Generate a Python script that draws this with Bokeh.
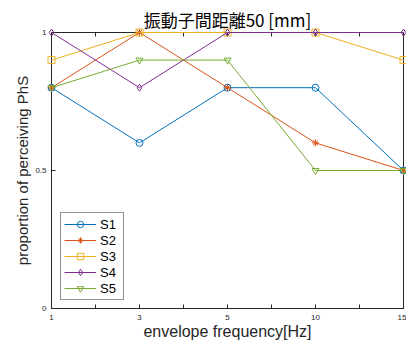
from bokeh.plotting import figure
from bokeh.models import (Range1d, FixedTicker, LinearAxis, Legend, Title)
from bokeh.embed import file_html
from bokeh.resources import INLINE

freq_labels = ["1", "3", "5", "10", "15"]
S1 = [0.8, 0.6, 0.8, 0.8, 0.5]
S2 = [0.8, 1.0, 0.8, 0.6, 0.5]
S3 = [0.9, 1.0, 1.0, 1.0, 0.9]
S4 = [1.0, 0.8, 1.0, 1.0, 1.0]
S5 = [0.8, 0.9, 0.9, 0.5, 0.5]
series = [("S1", S1, "#0072BD", "circle"),
          ("S2", S2, "#D95319", "asterisk"),
          ("S3", S3, "#EDB120", "square"),
          ("S4", S4, "#7E2F8E", "diamond"),
          ("S5", S5, "#77AC30", "inverted_triangle")]
y_ticks = [0, 0.5, 1]
title_text = "振動子間距離50 [mm]"
CJK = "Noto Sans CJK JP"
LAT = "Liberation Sans"
AX = "#262626"

xs = list(range(len(freq_labels)))

p = figure(width=406, height=342, output_backend="svg", toolbar_location=None,
           x_range=Range1d(0, len(freq_labels) - 1), y_range=Range1d(0, 1),
           min_border_left=51, min_border_right=3, min_border_top=32,
           min_border_bottom=34, x_axis_location=None, y_axis_location=None)
p.title = Title(text=title_text, align="center", text_font=CJK,
                text_font_size="17px", text_font_style="normal",
                text_color="black", standoff=1)
p.grid.visible = False
p.outline_line_color = AX
p.background_fill_color = "white"
p.border_fill_color = "white"

tick_x = FixedTicker(ticks=xs, minor_ticks=[i + 0.5 for i in xs[:-1]])
tick_y = FixedTicker(ticks=y_ticks, minor_ticks=[])


def style_axis(ax, show_labels):
    ax.axis_line_color = AX
    ax.major_tick_line_color = AX
    ax.minor_tick_line_color = AX
    ax.major_tick_in = 4
    ax.major_tick_out = 0
    ax.minor_tick_in = 4
    ax.minor_tick_out = 0
    ax.major_label_text_font = LAT
    ax.axis_label_text_font = LAT
    ax.axis_label_text_font_style = "normal"
    ax.axis_label_text_color = AX
    if show_labels:
        ax.major_label_text_color = AX
        ax.major_label_text_font_size = "8px"
    else:
        ax.major_label_text_color = None
        ax.major_label_text_font_size = "1px"
        ax.major_label_standoff = 0


xb = LinearAxis(ticker=tick_x, axis_label="envelope frequency[Hz]",
                major_label_overrides={i: l for i, l in enumerate(freq_labels)})
style_axis(xb, True)
xb.axis_label_text_font_size = "16px"
xb.major_label_standoff = 6
xb.axis_label_standoff = 0
p.add_layout(xb, "below")

yl = LinearAxis(ticker=tick_y, axis_label="proportion of perceiving PhS",
                major_label_overrides={0: "0", 0.5: "0.5", 1: "1"})
style_axis(yl, True)
yl.axis_label_text_font_size = "15px"
yl.major_label_standoff = 5
yl.axis_label_standoff = 1
p.add_layout(yl, "left")

xt = LinearAxis(ticker=tick_x)
style_axis(xt, False)
p.add_layout(xt, "above")

yr = LinearAxis(ticker=tick_y)
style_axis(yr, False)
p.add_layout(yr, "right")

items = []
for name, vals, color, marker in series:
    r1 = p.line(xs, vals, line_color=color, line_width=1, level="annotation")
    r2 = p.scatter(xs, vals, marker=marker, size=7, line_color=color,
                   fill_alpha=0, line_width=1, level="annotation")
    items.append((name, [r1, r2]))

legend = Legend(items=items, location=(9, 8), label_text_font=LAT,
                label_text_font_size="13px", label_text_color="black",
                glyph_width=32, glyph_height=16, label_standoff=4,
                label_height=16, spacing=0, padding=3, margin=0,
                border_line_color=AX, border_line_width=1,
                background_fill_color="white", background_fill_alpha=1)
p.add_layout(legend, "center")

open("out.html", "w").write(file_html(p, INLINE))
